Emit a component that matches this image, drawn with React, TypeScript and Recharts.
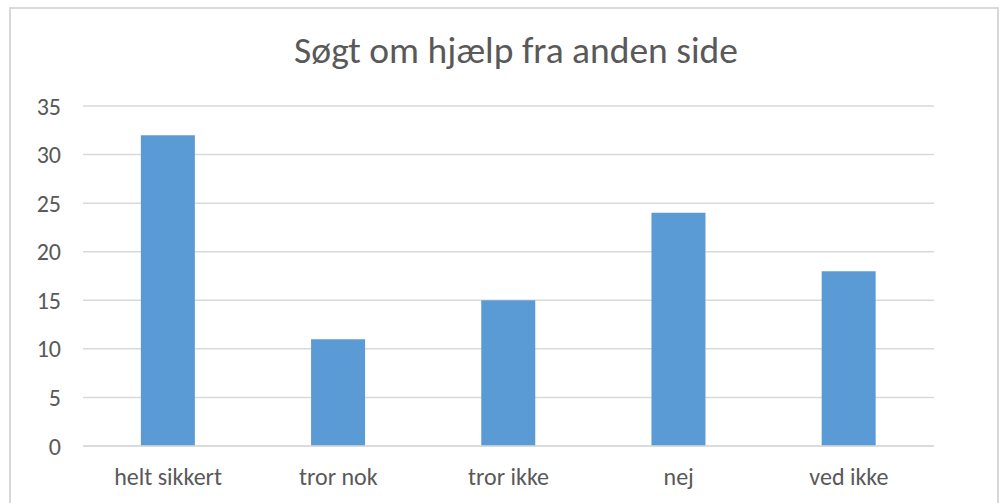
import { BarChart, Bar, XAxis, YAxis, CartesianGrid } from 'recharts'

const categories = ['helt sikkert', 'tror nok', 'tror ikke', 'nej', 'ved ikke']
const counts = [32, 11, 15, 24, 18]
const yTicks = [0, 5, 10, 15, 20, 25, 30, 35]

const FONT = 'Carlito, Calibri, "Open Sans", sans-serif'
const TEXT = '#595959'

export default function App() {
  const data = categories.map((name, i) => ({ name, value: counts[i] }))

  return (
    <div style={{ position: 'absolute', left: 0, top: 0, width: 1008, height: 503, background: '#fff', overflow: 'hidden', fontFamily: FONT }}>
      <div style={{ position: 'absolute', left: 9, top: 7, width: 986, height: 520, border: '2px solid #d9d9d9' }} />
      <div style={{ position: 'absolute', left: 0, top: 32, width: 1032, textAlign: 'center', fontSize: 37.5, lineHeight: '37px', color: TEXT, whiteSpace: 'nowrap' }}>
        Søgt om hjælp fra anden side
      </div>
      <BarChart
        width={1008}
        height={503}
        data={data}
        margin={{ top: 106, right: 74, bottom: 27, left: 23 }}
        barCategoryGap="34%"
        style={{ position: 'absolute', left: 0, top: 0 }}
      >
        <CartesianGrid vertical={false} stroke="#d9d9d9" strokeWidth={1.5} />
        <XAxis
          dataKey="name"
          height={30}
          axisLine={{ stroke: '#d9d9d9', strokeWidth: 1.5 }}
          tickLine={false}
          tickSize={0}
          tickMargin={22}
          tick={{ fill: TEXT, fontSize: 24, fontFamily: FONT }}
        />
        <YAxis
          width={60}
          domain={[0, 35]}
          ticks={yTicks}
          axisLine={false}
          tickLine={false}
          tickSize={0}
          tickMargin={22}
          tick={{ fill: TEXT, fontSize: 24, fontFamily: FONT }}
        />
        <Bar dataKey="value" fill="#5b9bd5" isAnimationActive={false} />
      </BarChart>
    </div>
  )
}
